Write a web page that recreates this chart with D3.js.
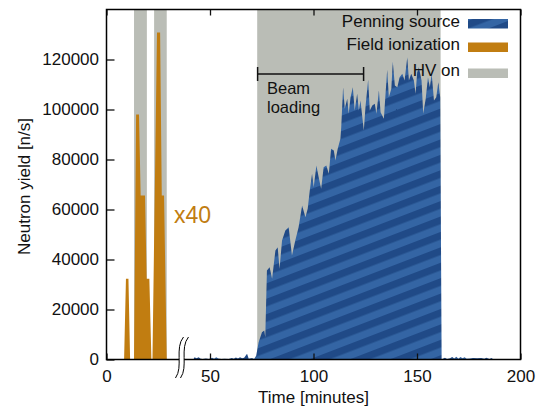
<!DOCTYPE html>
<html><head><meta charset="utf-8">
<script src="https://cdn.jsdelivr.net/npm/d3@7"></script>
<style>
html,body{margin:0;padding:0;background:#fff;}
svg{display:block;font-family:"Liberation Sans",Arial,Helvetica,sans-serif;}
</style></head>
<body>
<svg id="chart" width="541" height="409"></svg>
<script>
// ---- data ----
const xTicks = [0, 50, 100, 150, 200];
const yTicks = [0, 20000, 40000, 60000, 80000, 100000, 120000];
const hvOnStart = [13.3, 23.0, 72.8];
const hvOnEnd   = [19.5, 29.1, 161.4];
const fiFactor = 40;
const fiTime  = [8.5, 9.4, 10.6, 11.4, 13.3, 14.3, 15.7, 16.5, 18.6, 19.4, 20.7, 21.7, 22.2, 24.4, 25.9, 26.7, 27.8, 29.1];
const fiValue = [0, 808, 808, 0, 0, 2450, 2450, 1640, 1640, 808, 808, 0, 0, 3270, 3270, 1640, 1640, 0];
const penTime = [42.0,42.5,43.5,44.5,45.5,46.5,48,49.5,51,52,53,54,55.5,57,59,60.5,61.5,62.5,63.5,64.5,65.5,66.5,67.9,68.7,70.3,71.3,72.3,
 73.5,75.1,76.2,76.7,77.5,78.8,80.0,81.6,82.7,83.6,84.8,86.4,88.0,89.6,91.2,92.8,94.5,96.1,97.2,98.2,99.3,100.1,101.4,102.5,103.7,104.9,
 106.2,107.4,108.5,109.8,110.6,111.7,113.0,113.4,114.3,115.1,116.3,117.0,117.9,119.0,119.9,121.1,121.9,122.7,124.3,125.1,126.4,127.2,
 128.4,129.6,130.4,131.6,132.4,134.0,134.8,135.6,136.4,137.6,138.3,139.3,140.5,141.6,142.9,144.0,145.3,146.1,147.2,148.5,149.3,150.1,
 150.9,152.2,153.0,154.2,155.3,156.2,157.1,158.2,159.3,160.3,161.2,161.9,
 162.5,163.5,164.5,166,167,168,169,170,171,172,173,174,175.5,177,179,181,182.5,183.5,185,186,187];
const penValue = [0,900,500,900,300,200,400,200,700,300,900,400,200,300,200,600,300,800,400,900,500,700,2300,300,600,200,1500,
 6900,10900,11600,8900,35600,36900,32300,43600,44900,36300,47600,51600,52900,41600,47600,52900,61600,56900,60300,67600,74300,68900,77600,72900,68300,76900,
 77600,74300,84300,83600,79600,84300,88300,92900,108900,100300,104300,98300,104900,108900,99600,106300,99600,103600,91600,100900,111900,99600,
 101600,102300,98300,107600,98900,96300,106300,115900,104900,108300,119200,109600,108900,112900,114300,111600,120900,111600,114300,111600,106300,114900,
 116900,111600,98300,104300,112900,108900,114300,103600,104900,110900,104900,0,
 300,700,200,500,1000,400,1100,300,1000,500,900,300,400,600,500,600,300,700,200,600,0];
const legendLabels = ["Penning source", "Field ionization", "HV on"];
const beamLines = ["Beam", "loading"];
const beamStart = 73, beamEnd = 124.2;
const breakAt = 35.5;

// ---- styles ----
const cBlueL = "#3465a4", cBlueD = "#204a87", cOrange = "#c17d11", cGray = "#babdb6";
const svg = d3.select("#chart");
const x = d3.scaleLinear().domain([0, 200]).range([106.5, 520.5]);
const y = d3.scaleLinear().domain([0, 140000]).range([359.5, 9.5]);

const defs = svg.append("defs");
const P = 14.4;
const pat = defs.append("pattern").attr("id", "stripes").attr("patternUnits", "userSpaceOnUse")
  .attr("width", 40).attr("height", P).attr("patternTransform", "rotate(-21)");
pat.append("rect").attr("width", 40).attr("height", P).attr("fill", cBlueL);
pat.append("rect").attr("width", 40).attr("height", P / 2).attr("fill", cBlueD);

// HV on regions
svg.append("g").selectAll("rect").data(hvOnStart).join("rect")
  .attr("x", (d) => x(d)).attr("width", (d, i) => x(hvOnEnd[i]) - x(d))
  .attr("y", y(140000)).attr("height", y(0) - y(140000)).attr("fill", cGray);

// field ionization
const fi = fiTime.map((t, i) => [t, fiValue[i] * fiFactor]);
svg.append("path").datum(fi).attr("fill", cOrange)
  .attr("d", d3.area().x(d => x(d[0])).y0(y(0)).y1(d => y(d[1])));

// penning
const pen = penTime.map((t, i) => [t, penValue[i]]);
svg.append("path").datum(pen).attr("fill", "url(#stripes)")
  .attr("d", d3.area().x(d => x(d[0])).y0(y(0)).y1(d => y(d[1])));

// axes
const axL = svg.append("g").attr("transform", `translate(${x(0)},0)`)
  .call(d3.axisLeft(y).tickValues(yTicks).tickSize(-8).tickPadding(7.5).tickFormat(d3.format("d")));
const axB = svg.append("g").attr("transform", `translate(0,${y(0)})`)
  .call(d3.axisBottom(x).tickValues(xTicks).tickSize(-6).tickPadding(10));
const axT = svg.append("g").attr("transform", `translate(0,${y(140000)})`)
  .call(d3.axisTop(x).tickValues(xTicks).tickSize(-6).tickFormat(""));
[axL, axB, axT].forEach(g => {
  g.select(".domain").remove();
  g.selectAll("line").attr("stroke", "#111").attr("stroke-width", 1.3);
  g.selectAll("text").attr("font-size", 17).attr("fill", "#111")
    .attr("font-family", "'Liberation Sans',Arial,sans-serif");
});

// frame
svg.append("rect").attr("x", x(0)).attr("y", y(140000)).attr("width", x(200) - x(0)).attr("height", y(0) - y(140000))
  .attr("fill", "none").attr("stroke", "#000").attr("stroke-width", 1.5);

// axis break
const bx = x(breakAt);
const sCurve = (dx) => `M${bx + dx + 6},${337} C${bx + dx - 3},${348} ${bx + dx + 6},${367} ${bx + dx - 2},${378}`;
svg.append("path").attr("d", sCurve(0)).attr("fill", "none").attr("stroke", "#fff").attr("stroke-width", 5);
svg.append("path").attr("d", sCurve(-2.5)).attr("fill", "none").attr("stroke", "#000").attr("stroke-width", 1);
svg.append("path").attr("d", sCurve(2.5)).attr("fill", "none").attr("stroke", "#000").attr("stroke-width", 1);

// axis titles
svg.append("text").attr("x", (x(0) + x(200)) / 2).attr("y", 403).attr("text-anchor", "middle")
  .attr("font-size", 17).attr("fill", "#111").text("Time [minutes]");
svg.append("text").attr("transform", `translate(30,${(y(0) + y(140000)) / 2 + 2}) rotate(-90)`)
  .attr("text-anchor", "middle").attr("font-size", 17).attr("fill", "#111").text("Neutron yield [n/s]");

// x40 label
svg.append("text").attr("x", 174).attr("y", 223).attr("font-size", 23).attr("fill", cOrange).text("x" + fiFactor);

// beam loading bracket
const by = 74;
const br = svg.append("g").attr("stroke", "#111").attr("stroke-width", 1.5);
br.append("line").attr("x1", x(beamStart)).attr("x2", x(beamEnd)).attr("y1", by).attr("y2", by);
br.append("line").attr("x1", x(beamStart)).attr("x2", x(beamStart)).attr("y1", by - 7).attr("y2", by + 7);
br.append("line").attr("x1", x(beamEnd)).attr("x2", x(beamEnd)).attr("y1", by - 7).attr("y2", by + 7);
beamLines.forEach((s, i) => {
  svg.append("text").attr("x", 267).attr("y", 94 + i * 19).attr("font-size", 16.5).attr("fill", "#111").text(s);
});

// legend
const legFill = ["url(#stripes)", cOrange, cGray];
const legBase = [26.5, 50, 76];
legendLabels.forEach((lab, i) => {
  svg.append("text").attr("x", 460).attr("y", legBase[i]).attr("text-anchor", "end")
    .attr("font-size", 17).attr("fill", "#111").text(lab);
  svg.append("rect").attr("x", 468).attr("y", legBase[i] - 7.5).attr("width", 40).attr("height", 9.5)
    .attr("fill", legFill[i]);
});
</script>
</body></html>
